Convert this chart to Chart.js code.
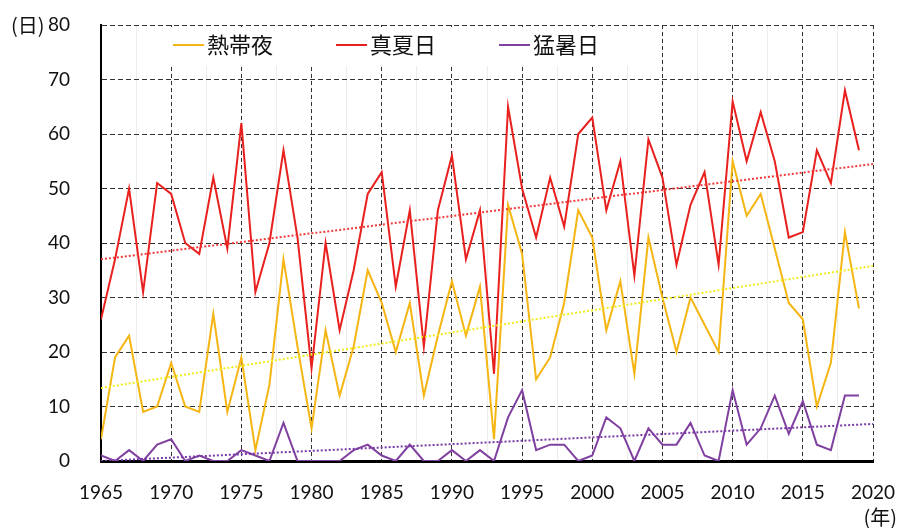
<!DOCTYPE html>
<html>
<head>
<meta charset="utf-8">
<script src="https://cdn.jsdelivr.net/npm/chart.js@4"></script>
<style>
  html, body { margin: 0; padding: 0; background: #fff; }
  #wrap { width: 898px; height: 528px; }
</style>
</head>
<body>
<div id="wrap"><canvas id="chart" width="898" height="528"></canvas></div>
<script>
// 年
const years = [
  1965, 1966, 1967, 1968, 1969, 1970, 1971, 1972, 1973, 1974,
  1975, 1976, 1977, 1978, 1979, 1980, 1981, 1982, 1983, 1984,
  1985, 1986, 1987, 1988, 1989, 1990, 1991, 1992, 1993, 1994,
  1995, 1996, 1997, 1998, 1999, 2000, 2001, 2002, 2003, 2004,
  2005, 2006, 2007, 2008, 2009, 2010, 2011, 2012, 2013, 2014,
  2015, 2016, 2017, 2018, 2019
];

// 熱帯夜
const tropicalNights = [
  4, 19, 23, 9, 10, 18, 10, 9, 27, 9,
  19, 2, 14, 37, 21, 6, 24, 12, 21, 35,
  29, 20, 29, 12, 23, 33, 23, 32, 4, 47,
  38, 15, 19, 29, 46, 41, 24, 33, 16, 41,
  30, 20, 30, 25, 20, 55, 45, 49, 39, 29,
  26, 10, 18, 42, 28
];

// 真夏日
const summerDays = [
  26, 37, 50, 31, 51, 49, 40, 38, 52, 39,
  62, 31, 40, 57, 41, 17, 40, 24, 35, 49,
  53, 32, 46, 21, 46, 56, 37, 46, 16, 65,
  50, 41, 52, 43, 60, 63, 46, 55, 34, 59,
  52, 36, 47, 53, 36, 66, 55, 64, 55, 41,
  42, 57, 51, 68, 57
];

// 猛暑日
const hotDays = [
  1, 0, 2, 0, 3, 4, 0, 1, 0, 0,
  2, 1, 0, 7, 0, 0, 0, 0, 2, 3,
  1, 0, 3, 0, 0, 2, 0, 2, 0, 8,
  13, 2, 3, 3, 0, 1, 8, 6, 0, 6,
  3, 3, 7, 1, 0, 13, 3, 6, 12, 5,
  11, 3, 2, 12, 12
];

// 近似直線 (両端の値を図から読み取り)
const trendYears = [1965, 2020];
const tropicalTrend = [13.4, 35.8];
const summerTrend = [37, 54.5];
const hotTrend = [0, 6.8];

const seriesNames = ['熱帯夜', '真夏日', '猛暑日'];
const seriesColors = ['#f5b513', '#e8201e', '#8040a0'];
const trendColors = ['#f0ec1e', '#f03a3a', '#7a3aa8'];

const toPoints = (xs, ys) => xs.map((x, i) => ({ x: x, y: ys[i] }));

const numFont = { family: 'Lato, "Liberation Sans", sans-serif', size: 19 };
const cjkFont = '"Noto Sans CJK JP", "Noto Sans", sans-serif';

// 凡例 (プロット内、白背景)
const legendBox = {
  id: 'legendBox',
  beforeDatasetsDraw(chart) {
    const ctx = chart.ctx;
    const xs = [173, 336, 499];
    ctx.save();
    ctx.fillStyle = '#fff';
    ctx.fillRect(150, 27, 480, 39);
    ctx.font = '22px ' + cjkFont;
    ctx.textBaseline = 'middle';
    ctx.textAlign = 'left';
    seriesNames.forEach((name, i) => {
      ctx.strokeStyle = seriesColors[i];
      ctx.lineWidth = 2;
      ctx.beginPath();
      ctx.moveTo(xs[i], 45);
      ctx.lineTo(xs[i] + 31, 45);
      ctx.stroke();
      ctx.fillStyle = '#111';
      ctx.fillText(name, xs[i] + 34, 45);
    });
    ctx.restore();
  }
};

// 単位ラベル
const unitLabels = {
  id: 'unitLabels',
  afterDraw(chart) {
    const ctx = chart.ctx;
    ctx.save();
    ctx.fillStyle = '#111';
    ctx.font = '20px ' + cjkFont;
    ctx.textBaseline = 'middle';
    ctx.textAlign = 'left';
    ctx.fillText('(日)', 11, 25);
    ctx.textAlign = 'right';
    ctx.fillText('(年)', 897, 517);
    ctx.restore();
  }
};

const lineSet = (label, data, color) => ({
  label: label,
  data: toPoints(years, data),
  borderColor: color,
  backgroundColor: color,
  borderWidth: 2,
  pointRadius: 0,
  tension: 0,
  fill: false
});

const trendSet = (data, color) => ({
  label: 'trend',
  data: toPoints(trendYears, data),
  borderColor: color,
  borderWidth: 2,
  borderDash: [2, 2],
  pointRadius: 0,
  fill: false
});

new Chart(document.getElementById('chart'), {
  type: 'line',
  data: {
    datasets: [
      trendSet(summerTrend, trendColors[1]),
      trendSet(tropicalTrend, trendColors[0]),
      trendSet(hotTrend, trendColors[2]),
      lineSet(seriesNames[1], summerDays, seriesColors[1]),
      lineSet(seriesNames[0], tropicalNights, seriesColors[0]),
      lineSet(seriesNames[2], hotDays, seriesColors[2])
    ]
  },
  options: {
    responsive: false,
    animation: false,
    layout: { padding: { top: 25, right: 25, left: 0, bottom: 0 } },
    plugins: {
      legend: { display: false },
      tooltip: { enabled: false }
    },
    scales: {
      xMinor: {
        type: 'linear',
        position: 'top',
        min: 1965,
        max: 2020,
        ticks: { display: false, stepSize: 2.5 },
        grid: { color: 'rgba(0,0,0,0.07)', drawTicks: false },
        border: { display: false },
        afterFit: s => { s.height = 0; s.paddingLeft = 0; s.paddingRight = 0; }
      },
      x: {
        type: 'linear',
        min: 1965,
        max: 2020,
        ticks: {
          stepSize: 5,
          color: '#111',
          font: numFont,
          padding: 20,
          maxRotation: 0,
          callback: v => String(v)
        },
        grid: { color: '#333', drawTicks: false },
        border: { display: true, color: '#000', width: 3, dash: [4, 3] },
        afterFit: s => { s.height = 67; s.paddingLeft = 0; s.paddingRight = 0; }
      },
      y: {
        min: 0,
        max: 80,
        ticks: {
          stepSize: 10,
          color: '#111',
          font: numFont,
          padding: 31
        },
        grid: { color: '#333', drawTicks: false },
        border: { display: true, color: '#000', width: 2, dash: [5, 3] },
        afterFit: s => { s.width = 101; s.paddingTop = 0; s.paddingBottom = 0; }
      }
    }
  },
  plugins: [legendBox, unitLabels]
});
</script>
</body>
</html>
